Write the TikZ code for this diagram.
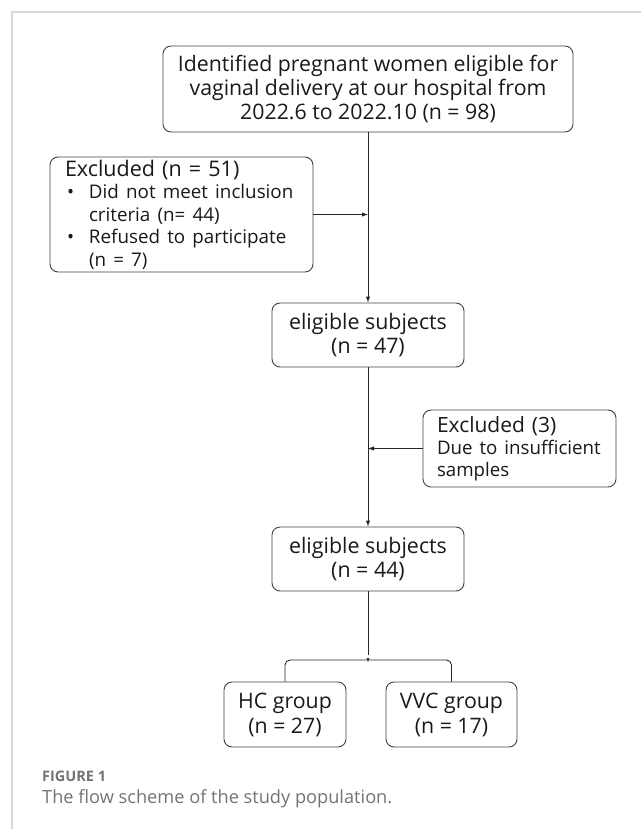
\documentclass[tikz,border=0pt]{standalone}
\usepackage{fontspec}
\setmainfont{Open Sans}
\usetikzlibrary{arrows.meta}

\begin{document}
\begin{tikzpicture}[x=1pt,y=-1pt,>={Latex[length=6pt,width=4.5pt]}]
	\tikzstyle{every node}=[text=black!90]
	\tikzstyle{stage}=[draw=black!75,line width=0.9pt,rounded corners=8pt,align=center,inner sep=0pt]
	\tikzstyle{note}=[stage,align=left,inner ysep=0pt]
	\tikzstyle{link}=[draw=black!85,line width=0.9pt]
	\tikzstyle{caption}=[anchor=base west,inner sep=0pt,text=black!55]
	\useasboundingbox (0,0) rectangle (641,829);
	\draw[black!15,line width=1.5pt] (12,829) -- (12,12) -- (641,12);
	\node[stage,font=\fontsize{21.3}{24}\selectfont,minimum width=410pt,minimum height=86pt] (found) at (368,89) {Identified pregnant women eligible for\\vaginal delivery at our hospital from\\2022.6 to 2022.10 (n = 98)};
	\node[note,font=\fontsize{21.5}{22.5}\selectfont,text width=233pt,inner xsep=15pt,minimum height=115pt] (out1) at (181.5,214.5) {Excluded (n = 51)\\
		{\fontsize{18.8}{22.5}\selectfont\makebox[24pt][l]{\hspace{2pt}\textbullet}Did not meet inclusion\\
		\makebox[24pt][l]{}criteria (n= 44)\\
		\makebox[24pt][l]{\hspace{2pt}\textbullet}Refused to participate\\
		\makebox[24pt][l]{}(n = 7)}};
	\node[stage,font=\fontsize{21.4}{24}\selectfont,minimum width=192pt,minimum height=64pt] (sub1) at (368,335) {eligible subjects\\(n = 47)};
	\node[note,font=\fontsize{21}{22}\selectfont,text width=165pt,inner xsep=14pt,minimum height=77pt] (out2) at (519.5,448.5) {Excluded (3)\\
		{\fontsize{18.7}{22}\selectfont Due to insufficient\\samples}};
	\node[stage,font=\fontsize{21.4}{24}\selectfont,minimum width=192pt,minimum height=64pt] (sub2) at (368,559) {eligible subjects\\(n = 44)};
	\node[stage,font=\fontsize{21.3}{25}\selectfont,minimum width=122pt,minimum height=65pt] (hc) at (285,714.5) {HC group\\(n = 27)};
	\node[stage,font=\fontsize{21.3}{25}\selectfont,minimum width=131pt,minimum height=65pt] (vvc) at (451.5,714.5) {VVC group\\(n = 17)};
	\coordinate (split) at (368,655);
	\draw[link,->] (found) -- (sub1);
	\draw[link,->] (out1.east) -- (out1.east -| found.south);
	\draw[link,->] (sub1) -- (sub2);
	\draw[link,->] (out2.west) -- (out2.west -| sub1.south);
	\draw[link] (sub2.south) -- (split);
	\draw[link,rounded corners=5pt] (hc.north) |- (364,660) to[out=0,in=-90] (split) to[out=-90,in=180] (372,660) -| (vvc.north);
	\node[caption,font=\fontsize{14.5}{14.5}\selectfont\bfseries] (fig) at (42,781) {FIGURE 1};
	\node[caption,font=\fontsize{18.2}{18.2}\selectfont] (title) at (42,803) {The flow scheme of the study population.};
\end{tikzpicture}
\end{document}
